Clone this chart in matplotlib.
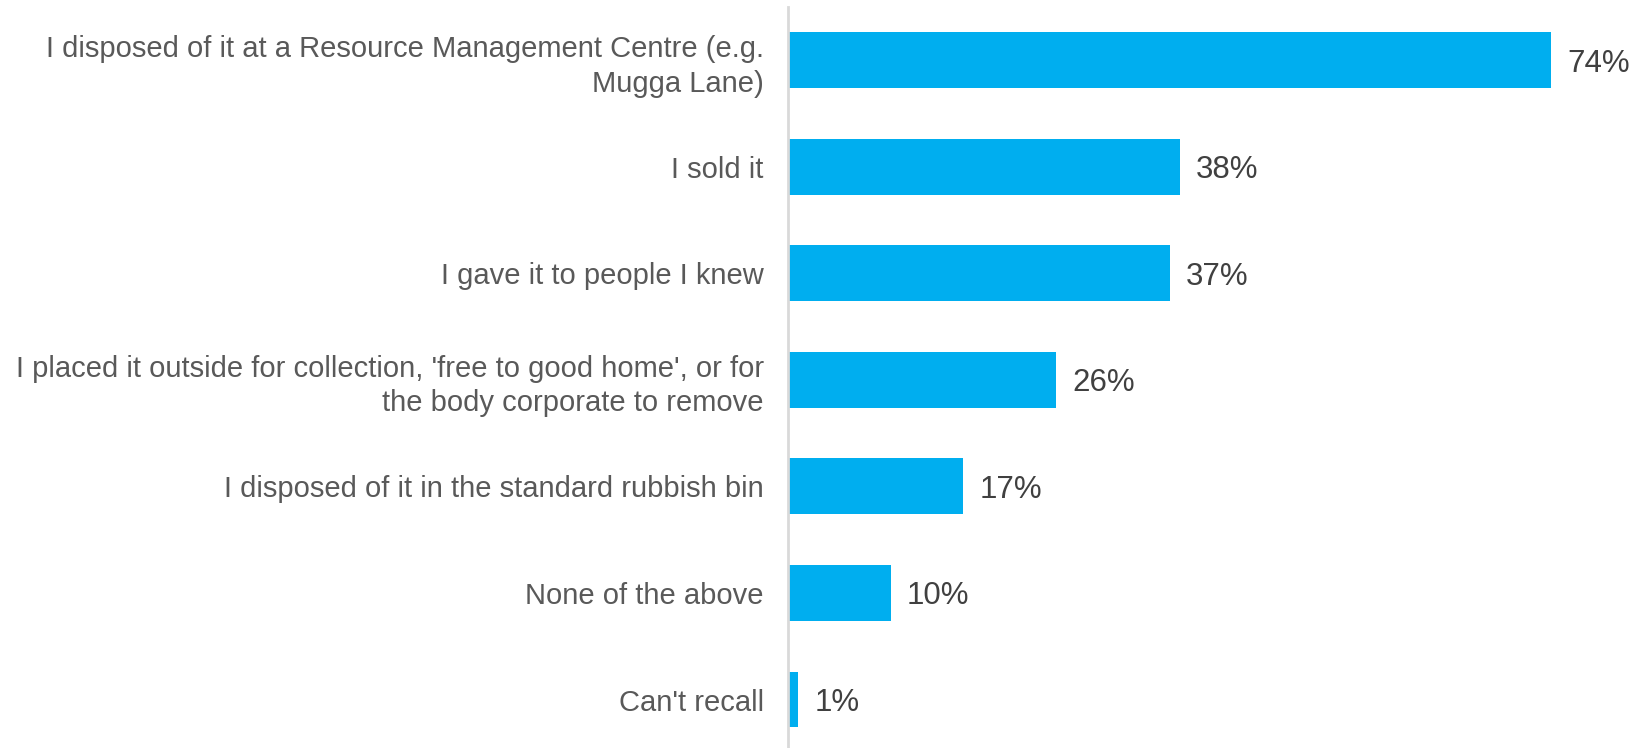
import matplotlib
matplotlib.use("Agg")
import matplotlib.pyplot as plt

categories = [
    "I disposed of it at a Resource Management Centre (e.g.\nMugga Lane)",
    "I sold it",
    "I gave it to people I knew",
    "I placed it outside for collection, 'free to good home', or for\nthe body corporate to remove",
    "I disposed of it in the standard rubbish bin",
    "None of the above",
    "Can't recall",
]
values = [74, 38, 37, 26, 17, 10, 1]
value_labels = ["74%", "38%", "37%", "26%", "17%", "10%", "1%"]

plt.rcParams['font.family'] = ['Liberation Sans', 'DejaVu Sans']

fig = plt.figure(figsize=(16.48, 7.48), dpi=100)
ax = fig.add_axes([788/1648, 0.0, 1 - 788/1648, 1 - 7/748])

y = list(range(len(categories)))
bars = ax.barh(y, values, height=0.525, color="#00AEEF")

ax.set_xlim(0, 83.4)
ax.set_ylim(6.455, -0.5)

for spine in ["top", "right", "bottom"]:
    ax.spines[spine].set_visible(False)
ax.spines["left"].set_color("#d9d9d9")
ax.spines["left"].set_linewidth(2)

ax.set_xticks([])
ax.set_yticks(y)
ax.set_yticklabels(categories, fontsize=21, color="#595959", linespacing=1.3)
ax.tick_params(axis="y", length=0, pad=17.5)

for yi, v, lab in zip(y, values, value_labels):
    ax.annotate(lab, xy=(v, yi), xytext=(16, 0), textcoords="offset pixels",
                va="center_baseline", ha="left", fontsize=22.5, color="#404040")

fig.savefig("out.png", dpi=100)
